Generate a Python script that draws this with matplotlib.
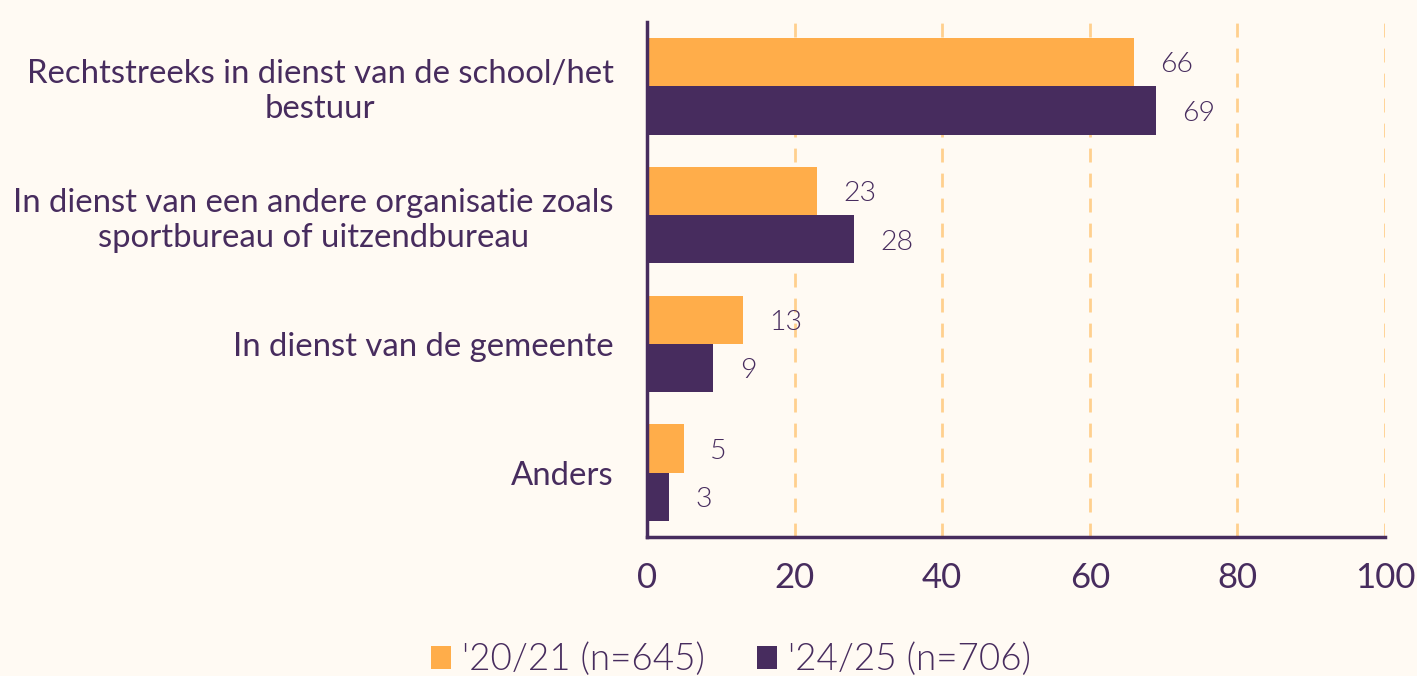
import matplotlib
matplotlib.use("Agg")
import matplotlib.pyplot as plt
import numpy as np

categories = ["Rechtstreeks in dienst van de school/het\nbestuur",
              "In dienst van een andere organisatie zoals\nsportbureau of uitzendbureau",
              "In dienst van de gemeente",
              "Anders"]
series_names = ["'20/21 (n=645)", "'24/25 (n=706)"]
vals_2021 = [66, 23, 13, 5]
vals_2425 = [69, 28, 9, 3]
xticks = [0, 20, 40, 60, 80, 100]

orange = "#FFAD4A"
purple = "#472C5E"
bg = "#FFFAF3"
grid_col = "#FFD08E"

plt.rcParams['font.family'] = ['Lato', 'DejaVu Sans']

fig = plt.figure(figsize=(14.17, 6.76), dpi=100, facecolor=bg)
ax = fig.add_axes([0.4566, 0.2056, 0.5208, 0.7619], facecolor=bg)

y = np.arange(len(categories))
h = 0.375
b1 = ax.barh(y - h/2, vals_2021, height=h, color=orange, label=series_names[0], zorder=3)
b2 = ax.barh(y + h/2, vals_2425, height=h, color=purple, label=series_names[1], zorder=3)

for bars, vals in [(b1, vals_2021), (b2, vals_2425)]:
    for bar, v in zip(bars, vals):
        ax.annotate(str(v), (v, bar.get_y() + bar.get_height()/2),
                    xytext=(19, -2), textcoords='offset points',
                    ha='left', va='center', fontsize=20.5, fontweight=300,
                    color=purple)

ax.set_xlim(0, 100)
ax.set_ylim(3.5, -0.5)
ax.set_xticks(xticks)
ax.set_yticks(y)
ax.set_yticklabels(categories, fontsize=23.7, color=purple, ha='right', multialignment='center')
ax.tick_params(axis='x', labelsize=25, labelcolor=purple, length=0, pad=18)
ax.tick_params(axis='y', length=0, pad=24)
ax.xaxis.grid(True, color=grid_col, linestyle=(0, (5, 4)), linewidth=2, zorder=0)

for s in ['top', 'right']:
    ax.spines[s].set_visible(False)
for s in ['left', 'bottom']:
    ax.spines[s].set_color(purple)
    ax.spines[s].set_linewidth(2.5)
    ax.spines[s].set_zorder(4)

leg = fig.legend(handles=[b1, b2], loc='center', bbox_to_anchor=(0.516, 0.023),
                 ncol=2, frameon=False, handlelength=0.55, handleheight=0.6,
                 columnspacing=1.4, handletextpad=0.3,
                 prop={'family': 'Lato', 'weight': 300, 'size': 26.5})
for t in leg.get_texts():
    t.set_color(purple)

fig.savefig("out.png", dpi=100, facecolor=bg)
